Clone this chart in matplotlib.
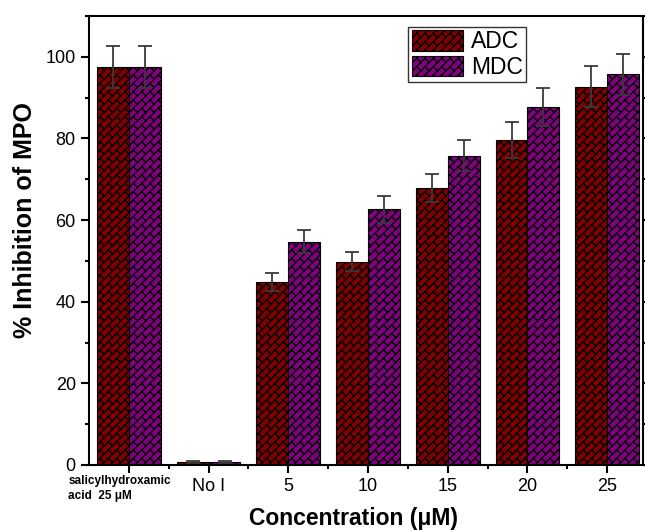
import warnings

import matplotlib
matplotlib.use("Agg")
import matplotlib.hatch as mhatch
import matplotlib.pyplot as plt
import matplotlib.transforms as mtransforms
import numpy as np
from matplotlib.path import Path
from matplotlib.ticker import MultipleLocator

warnings.filterwarnings("ignore")

plt.rcParams["font.family"] = ["Liberation Sans", "DejaVu Sans"]
plt.rcParams["hatch.linewidth"] = 1.0

categories = ["salicylhydroxamic\nacid  25 μM", "No I", "5", "10", "15", "20", "25"]
adc = [97.5, 0.8, 44.8, 49.8, 67.8, 79.5, 92.7]
adc_err = [5.2, 0.3, 2.3, 2.4, 3.5, 4.4, 5.0]
mdc = [97.5, 0.8, 54.7, 62.7, 75.7, 87.7, 95.7]
mdc_err = [5.2, 0.3, 2.8, 3.3, 3.8, 4.6, 5.0]


def brick_segments(n_lines=12, n_bricks=6):
    """Diagonal brick pattern in the unit hatch square (u = x+y, v = x-y)."""
    segs = []
    for k in range(-n_lines - 1, n_lines + 1):
        v0, v1 = k / n_lines, (k + 1) / n_lines
        segs.append(((v0 / 2, -v0 / 2), ((2 + v0) / 2, (2 - v0) / 2)))
        shift = (k % 2) / (2 * n_bricks)
        for m in range(2 * n_bricks + 1):
            u = m / n_bricks + shift
            segs.append((((u + v0) / 2, (u - v0) / 2), ((u + v1) / 2, (u - v1) / 2)))
    return segs


class BrickHatch(mhatch.HatchPatternBase):
    def __init__(self, hatch, density):
        self.segs = brick_segments() if "b" in hatch else []
        self.num_vertices = 2 * len(self.segs)

    def set_vertices_and_codes(self, vertices, codes):
        vertices[:] = np.asarray(self.segs, dtype=float).reshape(-1, 2)
        codes[0::2] = Path.MOVETO
        codes[1::2] = Path.LINETO


mhatch._hatch_types.append(BrickHatch)

x = np.arange(len(categories))
w = 0.4

fig = plt.figure(figsize=(6.45, 5.31), dpi=100)
ax = fig.add_axes([0.138, 0.1243, 0.859, 0.8457])

err_kw = dict(ecolor="#3a3a3a", elinewidth=1.3, capsize=5, capthick=1.3)
ax.bar(x - w / 2, adc, w, yerr=adc_err, color="#800000", edgecolor="black",
       linewidth=0.8, hatch="b", label="ADC", error_kw=err_kw)
ax.bar(x + w / 2, mdc, w, yerr=mdc_err, color="#800080", edgecolor="black",
       linewidth=0.8, hatch="b", label="MDC", error_kw=err_kw)

ax.set_xlim(-0.5, 6.45)
ax.set_ylim(0, 110)
ax.yaxis.set_major_locator(MultipleLocator(20))
ax.yaxis.set_minor_locator(MultipleLocator(10))
ax.set_xticks(x)
ax.set_xticks(x[:-1] + 0.5, minor=True)
ax.set_xticklabels([""] + categories[1:])
ax.tick_params(axis="both", which="major", labelsize=13, length=6, width=1.5,
               direction="out")
ax.tick_params(axis="both", which="minor", length=3, width=1.5, direction="out")
ax.tick_params(axis="y", which="both", right=True, labelright=False)

# first category label is small, bold and left aligned below its tick
trans = mtransforms.blended_transform_factory(ax.transData, ax.transAxes)
ax.text(x[0] - 0.76, -0.022, categories[0], transform=trans, ha="left", va="top",
        fontsize=8.5, fontweight="bold", linespacing=1.4)

for s in ax.spines.values():
    s.set_linewidth(1.5)

ax.set_ylabel("% Inhibition of MPO", fontsize=18, fontweight="bold")
ax.yaxis.set_label_coords(-0.094, 0.546)
ax.set_xlabel("Concentration (μM)", fontsize=16.5, fontweight="bold")
ax.xaxis.set_label_coords(0.478, -0.093, transform=ax.transAxes)
ax.xaxis.label.set_va("top")

ax.legend(loc="upper left", bbox_to_anchor=(0.576, 0.976), fontsize=16.5,
          frameon=True, fancybox=False, edgecolor="#333333", framealpha=1,
          handlelength=2.25, handleheight=1.0, borderpad=0.15, labelspacing=0.1,
          handletextpad=0.35, borderaxespad=0)

fig.savefig("out.png", dpi=100)
